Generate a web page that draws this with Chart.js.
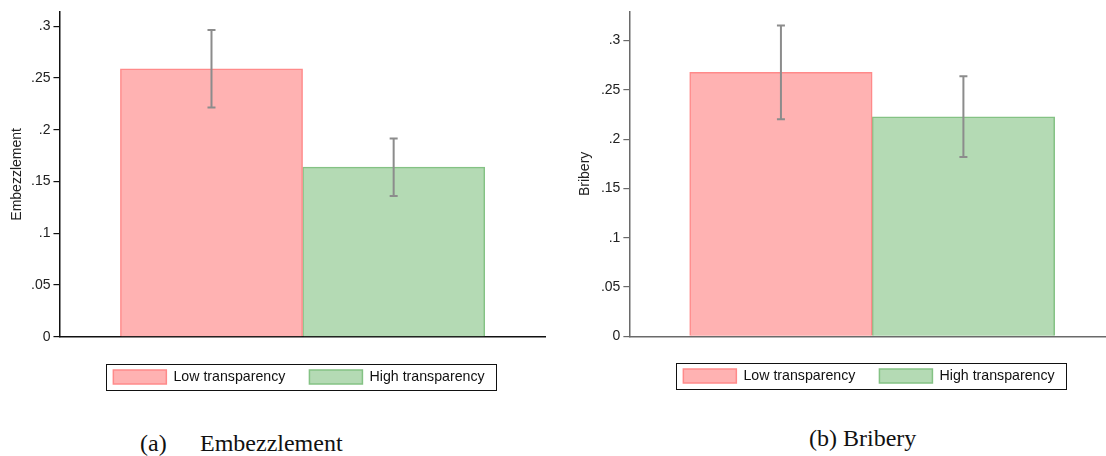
<!DOCTYPE html>
<html>
<head>
<meta charset="utf-8">
<script src="https://cdn.jsdelivr.net/npm/chart.js@4.4.1/dist/chart.umd.min.js"></script>
<style>
    body { margin: 0; background: #fff; overflow: hidden; }
    #wrap { position: relative; width: 1106px; height: 456px; }
    canvas { position: absolute; top: 0; }
    #c1 { left: 0; }
    #c2 { left: 560px; }
    .cap { position: absolute; font-family: "Liberation Serif", "Times New Roman", serif;
           font-size: 24px; line-height: 24px; color: #111; white-space: nowrap; }
</style>
</head>
<body>
<div id="wrap">
    <canvas id="c1" width="560" height="400"></canvas>
    <canvas id="c2" width="546" height="400"></canvas>
    <div class="cap" style="left:140px; top:431px;">(a)</div>
    <div class="cap" style="left:200px; top:431px;">Embezzlement</div>
    <div class="cap" style="left:809px; top:426px;">(b) Bribery</div>
</div>
<script>
const groups = ['Low transparency', 'High transparency'];
const embezzlementMean = [0.259, 0.164];
const embezzlementLow = [0.2215, 0.136];
const embezzlementHigh = [0.2965, 0.1915];
const briberyMean = [0.2677, 0.2226];
const briberyLow = [0.2203, 0.182];
const briberyHigh = [0.3154, 0.2637];
const yTicks = [0, 0.05, 0.1, 0.15, 0.2, 0.25, 0.3];

const fills = ['#ffb2b2', '#b4dab4'];
const borders = ['#ff8a8a', '#84c284'];

Chart.defaults.font.family = '"Liberation Sans", Arial, sans-serif';
Chart.defaults.color = '#222';

// whiskers on top of each bar, hung on the chart's own scales
const errorBars = {
    id: 'errorBars',
    afterDatasetsDraw(chart, args, opts) {
        const ctx = chart.ctx;
        const y = chart.scales.y;
        ctx.save();
        ctx.strokeStyle = '#8c8c8c';
        ctx.lineWidth = 2;
        chart.data.datasets.forEach((ds, i) => {
            const bar = chart.getDatasetMeta(i).data[0];
            const top = y.getPixelForValue(opts.high[i]);
            const bot = y.getPixelForValue(opts.low[i]);
            ctx.beginPath();
            ctx.moveTo(bar.x, top); ctx.lineTo(bar.x, bot);
            ctx.moveTo(bar.x - 4, top); ctx.lineTo(bar.x + 4, top);
            ctx.moveTo(bar.x - 4, bot); ctx.lineTo(bar.x + 4, bot);
            ctx.stroke();
        });
        ctx.restore();
    }
};

// move the legend under the bars and put a frame round it
const legendFrame = {
    id: 'legendFrame',
    afterLayout(chart, args, opts) {
        const lg = chart.legend;
        const w = lg.right - lg.left;
        const h = lg.bottom - lg.top;
        lg.left = opts.cx - w / 2;
        lg.right = lg.left + w;
        lg.top = opts.top;
        lg.bottom = opts.top + h;
    },
    afterDraw(chart) {
        const boxes = chart.legend.legendHitBoxes;
        if (!boxes || !boxes.length) return;
        const first = boxes[0], last = boxes[boxes.length - 1];
        const x0 = first.left - 7, x1 = last.left + last.width + 12;
        const ctx = chart.ctx;
        ctx.save();
        ctx.strokeStyle = '#111';
        ctx.lineWidth = 1;
        ctx.strokeRect(Math.round(x0) + 0.5, Math.round(first.top - 6) + 0.5,
                       Math.round(x1 - x0), Math.round(first.height + 12));
        ctx.restore();
    }
};

function makeChart(id, title, means, lows, highs, s) {
    return new Chart(id, {
        type: 'bar',
        data: {
            datasets: groups.map((g, i) => ({
                label: g,
                data: [{ x: i, y: means[i] }],
                backgroundColor: fills[i],
                borderColor: borders[i],
                borderWidth: 1.5,
                grouped: false,
                barPercentage: 1,
                categoryPercentage: 1,
            })),
        },
        options: {
            responsive: false,
            animation: false,
            layout: { padding: s.pad },
            scales: {
                x: {
                    type: 'linear',
                    offset: false,
                    min: s.xmin, max: s.xmax,
                    afterBuildTicks: scale => { scale.ticks = groups.map((g, i) => ({ value: i })); },
                    ticks: { display: false },
                    grid: { display: false, drawTicks: false },
                    border: { display: true, color: s.axis, width: 1.5 },
                },
                y: {
                    min: 0, max: s.ymax,
                    afterBuildTicks: scale => { scale.ticks = yTicks.map(v => ({ value: v })); },
                    ticks: {
                        padding: 3,
                        font: { size: 14 },
                        color: '#222',
                        callback: v => v === 0 ? '0' : String(+v.toFixed(2)).replace(/^0/, ''),
                    },
                    grid: { drawOnChartArea: false, drawTicks: true, tickLength: 6, color: s.axis, lineWidth: 1.2 },
                    border: { display: true, color: s.axis, width: 1.5 },
                    title: { display: true, text: title, font: { size: 14 }, color: '#222', padding: s.titlePad },
                },
            },
            plugins: {
                tooltip: { enabled: false },
                legend: {
                    position: 'bottom',
                    labels: { boxWidth: 53, boxHeight: 14, padding: 24, font: { size: 14.2 }, color: '#111' },
                },
                legendFrame: { cx: s.legendX, top: s.legendTop },
                errorBars: { low: lows, high: highs },
            },
        },
        plugins: [errorBars, legendFrame],
    });
}

makeChart('c1', 'Embezzlement', embezzlementMean, embezzlementLow, embezzlementHigh, {
    pad: { left: 1, right: 15, top: 12, bottom: 15 },
    titlePad: { top: 7.6, bottom: 2.6 },
    xmin: -0.8346, xmax: 1.8308, ymax: 0.3138,
    axis: '#111', legendX: 299, legendTop: 346,
});

makeChart('c2', 'Bribery', briberyMean, briberyLow, briberyHigh, {
    pad: { left: 10.5, right: 0, top: 9, bottom: 15.5 },
    titlePad: { top: 6.5, bottom: 4.1 },
    xmin: -0.8306, xmax: 1.7814, ymax: 0.3296,
    axis: '#6a6a6a', legendX: 309, legendTop: 345,
});
</script>
</body>
</html>
